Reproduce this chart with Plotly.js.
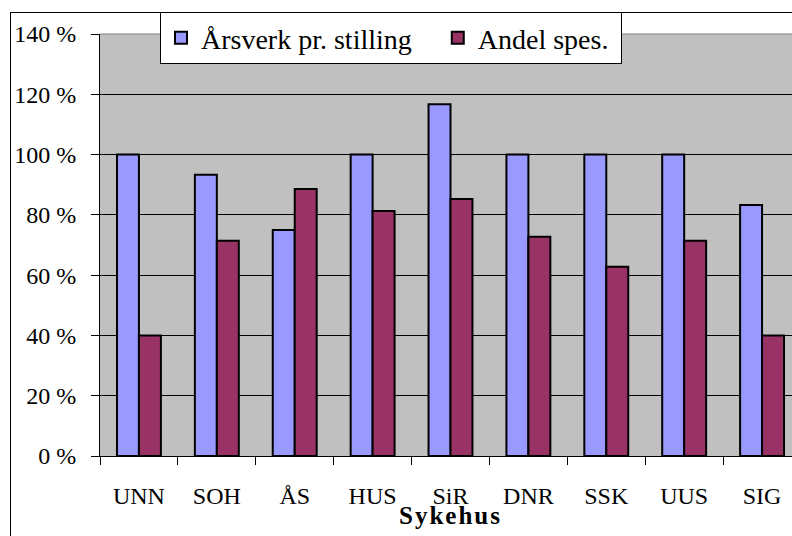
<!DOCTYPE html>
<html>
<head>
<meta charset="utf-8">
<script src="https://cdn.plot.ly/plotly-3.0.1.min.js"></script>
<style>
html, body { margin: 0; padding: 0; overflow: hidden; background: #fff; width: 792px; height: 536px; }
#frame { position: absolute; left: 10px; top: 12px; width: 1000px; height: 1000px; border-left: 1px solid #000; border-top: 1px solid #000; }
#chart { position: absolute; left: 0; top: 0; }
.annotation-text { letter-spacing: 2px; }
</style>
</head>
<body>
<div id="frame"></div>
<div id="chart"></div>
<script>
const categories = ["UNN", "SOH", "ÅS", "HUS", "SiR", "DNR", "SSK", "UUS", "SIG"];
const arsverk = [100, 93.3, 75, 100, 116.7, 100, 100, 100, 83.3];
const andelSpes = [40, 71.4, 88.6, 81.3, 85.3, 72.7, 62.8, 71.4, 40];
const seriesNames = ["Årsverk pr. stilling", "Andel spes."];
const yTicks = [0, 20, 40, 60, 80, 100, 120, 140];
const yTickText = yTicks.map(v => v + " %");
const xTitle = "Sykehus";

const serif = "Liberation Serif, Times New Roman, serif";
const pad = "\u00a0\u00a0\u00a0";

const traces = [
  { type: "bar", name: seriesNames[0] + pad, x: categories, y: arsverk,
    marker: { color: "#9999FF", line: { color: "#000", width: 2 } } },
  { type: "bar", name: seriesNames[1] + "\u00a0", x: categories, y: andelSpes,
    marker: { color: "#993366", line: { color: "#000", width: 2 } } }
];

const layout = {
  width: 803, height: 536,
  margin: { l: 100, r: 2, t: 34, b: 80 },
  paper_bgcolor: "rgba(0,0,0,0)",
  plot_bgcolor: "#C0C0C0",
  barmode: "group",
  bargap: 0.436,
  bargroupgap: 0,
  font: { family: serif, size: 24, color: "#000" },
  xaxis: {
    type: "category",
    tickson: "boundaries",
    ticks: "outside", ticklen: 8, tickcolor: "#000", tickwidth: 1,
    ticklabelstandoff: 18,
    showline: true, linecolor: "#000", linewidth: 1,
    showgrid: false,
    tickfont: { family: serif, size: 24, color: "#000" },
    automargin: false
  },
  yaxis: {
    range: [0, 140],
    tickmode: "array",
    tickvals: yTicks,
    ticktext: yTickText,
    ticks: "outside", ticklen: 8, tickcolor: "#000", tickwidth: 1,
    ticklabelstandoff: 10,
    showline: true, linecolor: "#000", linewidth: 1,
    showgrid: true, gridcolor: "#000", gridwidth: 1,
    zeroline: false,
    tickfont: { family: serif, size: 24, color: "#000" },
    automargin: false
  },
  annotations: [
    { text: xTitle, xref: "paper", yref: "paper", x: 0.5, y: -0.142,
      xanchor: "center", yanchor: "middle", showarrow: false,
      font: { family: serif, size: 25, weight: "bold", color: "#000" } }
  ],
  shapes: [
    { type: "line", xref: "paper", yref: "paper", x0: 0, x1: 1, y0: 1, y1: 1,
      line: { color: "#808080", width: 1 } }
  ],
  legend: {
    orientation: "h",
    x: 0.0856, xanchor: "left",
    y: 1.0521, yanchor: "top",
    bgcolor: "#fff", bordercolor: "#000", borderwidth: 1,
    font: { family: serif, size: 28, color: "#000" },
    traceorder: "normal"
  },
  showlegend: true
};

Plotly.newPlot("chart", traces, layout, { displayModeBar: false, staticPlot: true });
</script>
</body>
</html>
